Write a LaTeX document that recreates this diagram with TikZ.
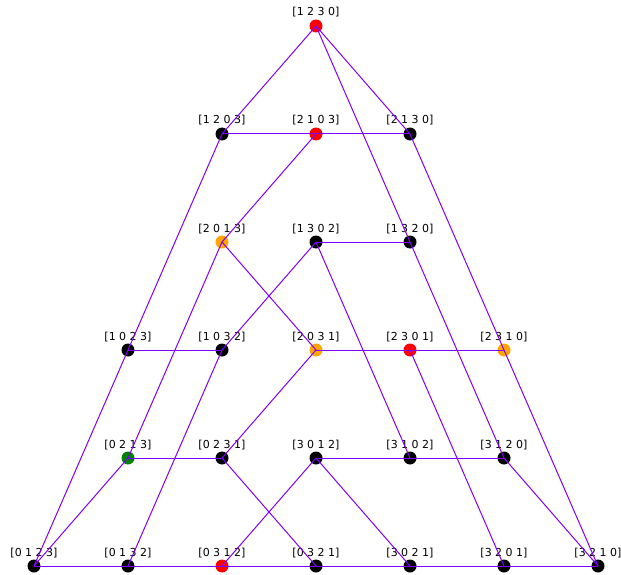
\documentclass[tikz,border=0pt]{standalone}
\usepackage{fontspec}
\setmainfont{DejaVu Sans}
\usetikzlibrary{positioning}
\definecolor{linkviolet}{HTML}{7F00FF}
\definecolor{permorange}{HTML}{FFA500}
\definecolor{permgreen}{HTML}{008000}
\definecolor{permred}{HTML}{FF0000}

\tikzset{
  perm/.style={circle, fill=#1, inner sep=0pt, minimum size=13pt},
  permlbl/.style={font=\fontsize{11}{13}\selectfont, anchor=base, inner sep=0pt},
  link/.style={draw=linkviolet, line width=1pt},
}

\begin{document}
\begin{tikzpicture}[x=1pt, y=-1pt]
    \useasboundingbox (0,0) rectangle (621,575);

    % Permutations, row by row
    \foreach \n/\x/\y/\c/\t in {
        1230/316/26/permred/{[1 2 3 0]},
        1203/222/134/black/{[1 2 0 3]},
        2103/316/134/permred/{[2 1 0 3]},
        2130/410/134/black/{[2 1 3 0]},
        2013/222/242/permorange/{[2 0 1 3]},
        1302/316/242/black/{[1 3 0 2]},
        1320/410/242/black/{[1 3 2 0]},
        1023/128/350/black/{[1 0 2 3]},
        1032/222/350/black/{[1 0 3 2]},
        2031/316/350/permorange/{[2 0 3 1]},
        2301/410/350/permred/{[2 3 0 1]},
        2310/504/350/permorange/{[2 3 1 0]},
        0213/128/458/permgreen/{[0 2 1 3]},
        0231/222/458/black/{[0 2 3 1]},
        3012/316/458/black/{[3 0 1 2]},
        3102/410/458/black/{[3 1 0 2]},
        3120/504/458/black/{[3 1 2 0]},
        0123/34/566/black/{[0 1 2 3]},
        0132/128/566/black/{[0 1 3 2]},
        0312/222/566/permred/{[0 3 1 2]},
        0321/316/566/black/{[0 3 2 1]},
        3021/410/566/black/{[3 0 2 1]},
        3201/504/566/black/{[3 2 0 1]},
        3210/598/566/black/{[3 2 1 0]}%
    }{
        \node[perm=\c] (n\n) at (\x,\y) {};
        \node[permlbl] (l\n) at ([yshift=10pt]n\n.center) {\t};
    }

    % Adjacent transpositions
    \foreach \a/\b in {
        1230/1203, 1230/2130, 1230/1320,
        1203/2103, 2103/2130, 1203/1023,
        2103/2013, 2130/2310,
        2013/0213, 2013/2031,
        1302/1320, 1302/1032, 1302/3102, 1320/3120,
        1023/1032, 1023/0123, 1032/0132,
        2031/2301, 2301/2310, 2031/0231, 2301/3201, 2310/3210,
        0213/0231, 0213/0123, 0231/0321,
        3012/3102, 3102/3120, 3012/0312, 3012/3021, 3120/3210,
        0123/0132, 0132/0312, 0312/0321, 0321/3021, 3021/3201, 3201/3210%
    }{
        \draw[link] (n\a.center) -- (n\b.center);
    }
\end{tikzpicture}
\end{document}
